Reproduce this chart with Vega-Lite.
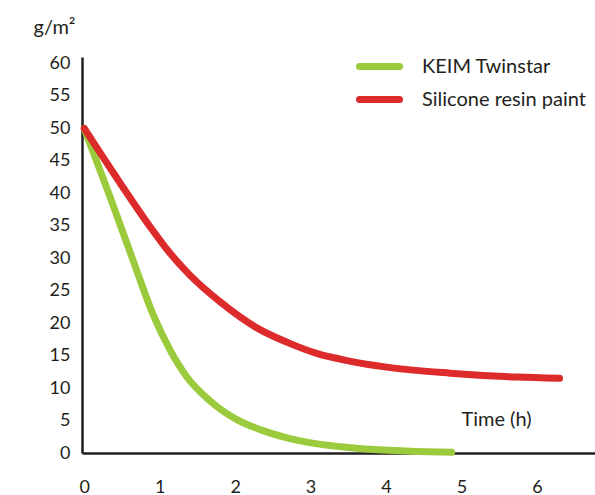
{
  "$schema": "https://vega.github.io/schema/vega-lite/v6.json",
  "width": 513,
  "height": 396,
  "autosize": {"type": "none"},
  "padding": {"left": 82, "top": 57, "right": 0, "bottom": 42},
  "background": "white",
  "config": {
    "view": {"stroke": null},
    "font": "Lato",
    "axis": {"grid": false, "ticks": false, "domainColor": "#231f20", "domainWidth": 2.5, "labelFont": "Lato", "labelFontSize": 18, "labelColor": "#231f20", "titleFont": "Lato", "titleFontWeight": "normal", "titleFontSize": 20, "titleColor": "#231f20"}
  },
  "data": {
    "values": [
      {"time": 0, "value": 50, "series": "KEIM Twinstar"},
      {"time": 0.34, "value": 39.5, "series": "KEIM Twinstar"},
      {"time": 0.64, "value": 29.9, "series": "KEIM Twinstar"},
      {"time": 0.91, "value": 21.4, "series": "KEIM Twinstar"},
      {"time": 1.14, "value": 15.8, "series": "KEIM Twinstar"},
      {"time": 1.36, "value": 11.7, "series": "KEIM Twinstar"},
      {"time": 1.67, "value": 8.0, "series": "KEIM Twinstar"},
      {"time": 2.03, "value": 5.1, "series": "KEIM Twinstar"},
      {"time": 2.33, "value": 3.6, "series": "KEIM Twinstar"},
      {"time": 2.7, "value": 2.3, "series": "KEIM Twinstar"},
      {"time": 3.09, "value": 1.4, "series": "KEIM Twinstar"},
      {"time": 3.5, "value": 0.85, "series": "KEIM Twinstar"},
      {"time": 3.96, "value": 0.45, "series": "KEIM Twinstar"},
      {"time": 4.4, "value": 0.25, "series": "KEIM Twinstar"},
      {"time": 4.87, "value": 0.1, "series": "KEIM Twinstar"},
      {"time": 0, "value": 50, "series": "Silicone resin paint"},
      {"time": 0.4, "value": 42.9, "series": "Silicone resin paint"},
      {"time": 0.87, "value": 34.9, "series": "Silicone resin paint"},
      {"time": 1.1, "value": 31.3, "series": "Silicone resin paint"},
      {"time": 1.4, "value": 27.4, "series": "Silicone resin paint"},
      {"time": 1.8, "value": 23.3, "series": "Silicone resin paint"},
      {"time": 2.33, "value": 19.0, "series": "Silicone resin paint"},
      {"time": 2.7, "value": 17.0, "series": "Silicone resin paint"},
      {"time": 3.09, "value": 15.3, "series": "Silicone resin paint"},
      {"time": 3.5, "value": 14.2, "series": "Silicone resin paint"},
      {"time": 3.96, "value": 13.3, "series": "Silicone resin paint"},
      {"time": 4.85, "value": 12.3, "series": "Silicone resin paint"},
      {"time": 5.73, "value": 11.7, "series": "Silicone resin paint"},
      {"time": 6.3, "value": 11.5, "series": "Silicone resin paint"}
    ]
  },
  "mark": {"type": "line", "interpolate": "monotone", "strokeWidth": 7, "strokeCap": "round", "strokeJoin": "round"},
  "encoding": {
    "x": {
      "field": "time", "type": "quantitative",
      "scale": {"domain": [-0.03, 6.77], "nice": false, "zero": false},
      "axis": {"values": [0, 1, 2, 3, 4, 5, 6], "labelPadding": 25, "labelFlush": false, "title": "Time (h)", "titleX": 414, "titleY": -28, "titleAlign": "center", "titleBaseline": "alphabetic", "titleAnchor": null}
    },
    "y": {
      "field": "value", "type": "quantitative",
      "scale": {"domain": [0, 61], "nice": false},
      "axis": {"values": [0, 5, 10, 15, 20, 25, 30, 35, 40, 45, 50, 55, 60], "labelPadding": 12, "labelFlush": false, "title": "g/m²", "titleAngle": 0, "titleX": -49, "titleY": -24, "titleAlign": "left", "titleBaseline": "alphabetic"}
    },
    "color": {
      "field": "series", "type": "nominal",
      "scale": {"domain": ["KEIM Twinstar", "Silicone resin paint"], "range": ["#9bcb3c", "#dd2a2b"]},
      "legend": {"title": null, "orient": "none", "legendX": 284, "legendY": -4, "symbolType": "M-2,0L2,0", "symbolSize": 400, "symbolStrokeWidth": 7, "labelFontSize": 20, "labelFont": "Lato", "labelColor": "#231f20", "labelOffset": 29, "rowPadding": 4, "labelLimit": 0,
        "encode": {"symbols": {"update": {"strokeCap": {"value": "round"}}}}}
    }
  }
}
